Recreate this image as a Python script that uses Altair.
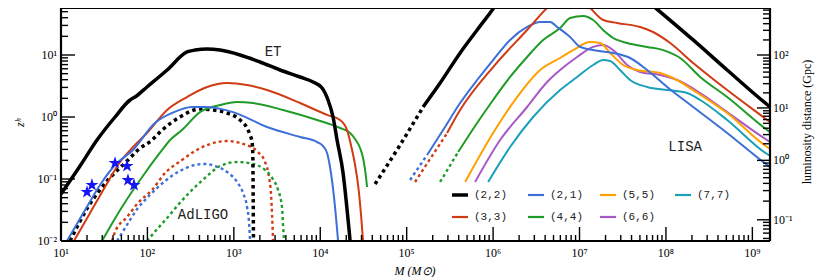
import altair as alt
import pandas as pd

# ---------------- data ----------------
# Einstein Telescope, solid lines
et22_M = [10, 16.6, 26.1, 42.2, 63.0, 71.8, 98.9, 169, 287, 356, 490, 692, 1180, 2010, 3425, 5840, 8260, 10500, 12300, 14060, 15640, 18360, 20990, 22130, 22400]
et22_z = [0.0573, 0.162, 0.425, 1.0, 1.88, 2.10, 3.05, 5.73, 11.2, 12.0, 12.5, 12.0, 10.0, 7.71, 5.73, 4.42, 3.67, 2.94, 1.88, 1.0, 0.425, 0.125, 0.0218, 0.01, 0.008]
et33_M = [14.1, 21.7, 32.3, 48.2, 66.4, 98.9, 169, 287, 490, 834, 1422, 2423, 5840, 11990, 16950, 20420, 23340, 25290, 27410, 29660, 31270]
et33_z = [0.01, 0.0283, 0.0743, 0.188, 0.316, 0.552, 1.30, 2.10, 3.05, 3.53, 3.28, 2.72, 1.68, 1.08, 0.896, 0.616, 0.294, 0.168, 0.080, 0.0262, 0.01]
et21_M = [11.7, 19.0, 28.3, 42.2, 68.1, 122, 193, 328, 464, 979, 2423, 5840, 9190, 10770, 11990, 12970, 14830, 16070]
et21_z = [0.01, 0.0316, 0.080, 0.168, 0.294, 0.80, 1.16, 1.45, 1.45, 1.20, 0.69, 0.476, 0.395, 0.340, 0.262, 0.156, 0.0353, 0.01]
et44_M = [29.8, 50.8, 93.8, 148, 183, 251, 406, 692, 1089, 1668, 3710, 9190, 16950, 22130, 25290, 28880, 31290, 33010, 34810]
et44_z = [0.01, 0.0353, 0.125, 0.294, 0.425, 0.616, 1.20, 1.56, 1.75, 1.68, 1.30, 0.896, 0.665, 0.552, 0.442, 0.316, 0.218, 0.140, 0.0743]

# Advanced LIGO, dotted lines
ligo22_M = [12.7, 20.5, 35.0, 59.6, 77.8, 113, 148, 238, 406, 574, 834, 1180, 1422, 1540, 1625, 1660, 1675, 1688]
ligo22_z = [0.01, 0.0353, 0.0964, 0.202, 0.294, 0.425, 0.616, 1.0, 1.35, 1.30, 1.16, 0.896, 0.665, 0.513, 0.395, 0.226, 0.046, 0.009]
ligo33_M = [38.9, 42.2, 58.1, 77.8, 113, 160, 251, 356, 531, 834, 1278, 1905, 2297, 2553, 2697, 2770, 2844]
ligo33_z = [0.01, 0.0140, 0.0244, 0.0410, 0.0665, 0.125, 0.202, 0.283, 0.367, 0.410, 0.367, 0.272, 0.188, 0.108, 0.0552, 0.0262, 0.01]
ligo21_M = [44.5, 55.1, 77.8, 107, 160, 238, 356, 464, 606, 834, 1089, 1278, 1422, 1500, 1540]
ligo21_z = [0.01, 0.0162, 0.0341, 0.0552, 0.0929, 0.135, 0.168, 0.175, 0.162, 0.130, 0.0895, 0.0595, 0.0353, 0.0195, 0.01]
ligo44_M = [98.9, 133, 173, 226, 295, 464, 692, 1089, 1668, 2297, 2770, 3250, 3610, 3710, 3810]
ligo44_z = [0.01, 0.0162, 0.0244, 0.0381, 0.0573, 0.104, 0.162, 0.188, 0.175, 0.140, 0.104, 0.0665, 0.0353, 0.0181, 0.01]

# LISA: dotted low-mass part, then solid
lisa22d_M = [43060, 83900, 154800]
lisa22d_z = [0.0830, 0.354, 1.45]
lisa22_M = [154800, 243600, 415300, 653200, 1.112e6, 1.377e6, 3e6, 3e7, 5.03e7, 6.92e7, 2.065e8, 5.11e8, 1.607e9, 1.84e9]
lisa22_z = [1.45, 3.53, 10.8, 25.3, 69, 112, 200, 200, 93, 64, 17.5, 5.73, 1.45, 1.25]
lisa33d_M = [125000, 293500]
lisa33d_z = [0.0895, 0.552]
lisa33_M = [293500, 415300, 1.0e6, 2.475e6, 4.57e6, 7.38e6, 1.225e7, 1.875e7, 2.72e7, 5.03e7, 7.11e7, 1.119e8, 2.065e8, 5.11e8, 1.483e9, 1.84e9]
lisa33_z = [0.552, 1.30, 6.40, 25.3, 64, 104, 64, 36.7, 32.8, 28.3, 23.5, 15.6, 7.43, 2.72, 0.896, 0.716]
lisa21d_M = [109400, 172200]
lisa21d_z = [0.0964, 0.244]
lisa21_M = [172200, 263800, 415300, 653200, 1.0e6, 1.573e6, 2.475e6, 3.50e6, 4.57e6, 5.51e6, 7.78e6, 1.016e7, 1.437e7, 2.45e7, 3.85e7, 6.06e7, 1.033e8, 2.065e8, 5.11e8, 1.334e9, 1.84e9]
lisa21_z = [0.244, 0.616, 1.68, 3.95, 8.30, 17.5, 28.3, 34.1, 34.1, 28.3, 19.5, 13.5, 12.0, 10.8, 8.95, 5.73, 3.05, 1.45, 0.552, 0.188, 0.135]
lisa44d_M = [243600, 393700]
lisa44d_z = [0.0895, 0.272]
lisa44_M = [393700, 653200, 1.0e6, 1.573e6, 2.475e6, 3.79e6, 5.96e6, 7.78e6, 1.10e7, 1.437e7, 1.875e7, 2.45e7, 3.56e7, 6.06e7, 9.29e7, 1.460e8, 2.49e8, 5.11e8, 1.483e9, 1.84e9]
lisa44_z = [0.272, 0.80, 1.88, 4.42, 9.29, 17.5, 27.2, 39.5, 42.6, 36.7, 25.3, 18.8, 15.6, 13.5, 12.0, 8.95, 4.42, 2.10, 0.616, 0.494]
lisa55_M = [474500, 1.0e6, 1.897e6, 3.50e6, 5.96e6, 8.43e6, 1.327e7, 1.73e7, 2.26e7, 3.20e7, 4.64e7, 8.57e7, 1.212e8, 2.065e8, 5.11e8, 1.483e9, 1.84e9]
lisa55_z = [0.0895, 0.552, 2.10, 5.73, 8.95, 12.0, 16.2, 15.6, 10.8, 6.90, 5.73, 5.13, 4.26, 2.72, 1.16, 0.328, 0.272]
lisa66_M = [619300, 1.205e6, 2.475e6, 4.22e6, 5.96e6, 9.38e6, 1.437e7, 1.875e7, 2.45e7, 3.56e7, 5.03e7, 8.57e7, 1.349e8, 2.49e8, 5.11e8, 1.483e9, 1.84e9]
lisa66_z = [0.0895, 0.425, 1.45, 3.67, 5.73, 9.29, 13.5, 14.5, 12.0, 6.90, 5.32, 4.75, 3.95, 2.44, 1.20, 0.425, 0.354]
lisa77_M = [875300, 1.573e6, 2.905e6, 5.96e6, 9.38e6, 1.437e7, 1.875e7, 2.26e7, 2.95e7, 3.85e7, 6.06e7, 1.033e8, 1.759e8, 2.49e8, 5.11e8, 1.483e9, 1.84e9]
lisa77_z = [0.0895, 0.328, 1.0, 2.72, 4.42, 6.90, 8.30, 8.0, 5.73, 3.95, 3.05, 2.72, 2.44, 1.88, 0.896, 0.253, 0.215]

# detected events (stars)
star_M = [20.0, 22.8, 42.2, 58.1, 59.6, 70.0]
star_z = [0.0616, 0.080, 0.181, 0.162, 0.096, 0.080]

# axis ticks / labels
x_major = [1e1, 1e2, 1e3, 1e4, 1e5, 1e6, 1e7, 1e8, 1e9]
x_major_lab = ["10¹", "10²", "10³", "10⁴", "10⁵", "10⁶", "10⁷", "10⁸", "10⁹"]
y_major = [1e-2, 1e-1, 1e0, 1e1]
y_major_lab = ["10⁻²", "10⁻¹", "10⁰", "10¹"]
dl_major_z = [0.022, 0.20, 1.4, 10.0]
dl_major_lab = ["10⁻¹", "10⁰", "10¹", "10²"]
dl_minor_z = [0.011, 0.0134, 0.0156, 0.0178, 0.0200, 0.044, 0.065, 0.085, 0.105, 0.124, 0.143,
              0.162, 0.181, 0.37, 0.52, 0.66, 0.79, 0.91, 1.03, 1.15, 1.26, 2.45, 3.45, 4.4,
              5.3, 6.2, 7.1, 8.0, 8.9, 17.5, 25, 32, 39, 46, 53]

legend_labels = ["(2,2)", "(2,1)", "(5,5)", "(7,7)", "(3,3)", "(4,4)", "(6,6)"]

# ---------------- style ----------------
W, H = 709, 233
XMIN, XMAX = 10, 1.6e9
YMIN, YMAX = 0.01, 57.3
BLACK = "#000000"
RED = "#d03b14"
BLUE = "#3c6fd8"
GREEN = "#1f9c28"
ORANGE = "#ffa000"
PURPLE = "#a958c8"
CYAN = "#1aa0b8"
SERIF = "Liberation Serif"
MONO = "Liberation Mono"

xs = alt.Scale(type="log", domain=[XMIN, XMAX], nice=False)
ys = alt.Scale(type="log", domain=[YMIN, YMAX], nice=False)


def line(M, z, color, width, dash=None):
    df = pd.DataFrame({"M": M, "z": z, "i": list(range(len(M)))})
    kw = dict(color=color, strokeWidth=width, clip=True, interpolate="monotone")
    if dash:
        kw["strokeDash"] = dash
        kw["strokeCap"] = "butt"
    return alt.Chart(df).mark_line(**kw).encode(
        x=alt.X("M:Q", scale=xs, axis=None),
        y=alt.Y("z:Q", scale=ys, axis=None),
        order="i:Q",
    )


layers = []
# AdLIGO dotted
layers += [
    line(ligo33_M, ligo33_z, RED, 2.4, [3, 3]),
    line(ligo21_M, ligo21_z, BLUE, 2.4, [3, 3]),
    line(ligo44_M, ligo44_z, GREEN, 2.4, [3, 3]),
    line(ligo22_M, ligo22_z, BLACK, 3.5, [3.5, 3.5]),
]
# ET solid
layers += [
    line(et44_M, et44_z, GREEN, 2),
    line(et33_M, et33_z, RED, 2),
    line(et21_M, et21_z, BLUE, 2),
    line(et22_M, et22_z, BLACK, 3.5),
]
# LISA
layers += [
    line(lisa22d_M, lisa22d_z, BLACK, 3.5, [3.5, 3.5]),
    line(lisa33d_M, lisa33d_z, RED, 2.4, [3, 3]),
    line(lisa21d_M, lisa21d_z, BLUE, 2.4, [3, 3]),
    line(lisa44d_M, lisa44d_z, GREEN, 2.4, [3, 3]),
    line(lisa77_M, lisa77_z, CYAN, 2),
    line(lisa66_M, lisa66_z, PURPLE, 2),
    line(lisa55_M, lisa55_z, ORANGE, 2),
    line(lisa44_M, lisa44_z, GREEN, 2),
    line(lisa21_M, lisa21_z, BLUE, 2),
    line(lisa33_M, lisa33_z, RED, 2),
    line(lisa22_M, lisa22_z, BLACK, 3.5),
]

STAR = "M0,-1L0.2245,-0.309L0.951,-0.309L0.363,0.118L0.588,0.809L0,0.382L-0.588,0.809L-0.363,0.118L-0.951,-0.309L-0.2245,-0.309Z"
layers.append(
    alt.Chart(pd.DataFrame({"M": star_M, "z": star_z})).mark_point(
        shape=STAR, filled=True, size=190, color="#1515f5", opacity=1
    ).encode(x=alt.X("M:Q", scale=xs, axis=None), y=alt.Y("z:Q", scale=ys, axis=None))
)

# ---- ticks (inward) ----
x_minor = [k * 10 ** e for e in range(1, 10) for k in range(2, 10) if k * 10 ** e <= XMAX]
y_minor = [k * 10.0 ** e for e in range(-2, 2) for k in range(2, 10) if k * 10.0 ** e <= YMAX]


def xtick(vals, length):
    return alt.Chart(pd.DataFrame({"M": vals})).mark_rule(color=BLACK, strokeWidth=1.4).encode(
        x=alt.X("M:Q", scale=xs, axis=None), y=alt.value(H), y2=alt.value(H - length))


def ytick(vals, x0, x1):
    return alt.Chart(pd.DataFrame({"z": vals})).mark_rule(color=BLACK, strokeWidth=1.4).encode(
        y=alt.Y("z:Q", scale=ys, axis=None), x=alt.value(x0), x2=alt.value(x1))


layers += [
    xtick(x_minor, 6), xtick(x_major, 14),
    ytick(y_minor, 0, 7), ytick(y_major, 0, 14),
    ytick(dl_minor_z, W, W - 7), ytick(dl_major_z, W, W - 13),
]

# ---- frame ----
frame = pd.DataFrame({"t": ["frame"]})
layers += [
    alt.Chart(frame).mark_rule(color=BLACK, strokeWidth=2.2).encode(x=alt.value(0), x2=alt.value(W), y=alt.value(0)),
    alt.Chart(frame).mark_rule(color=BLACK, strokeWidth=2.2).encode(x=alt.value(0), x2=alt.value(W), y=alt.value(H)),
    alt.Chart(frame).mark_rule(color=BLACK, strokeWidth=2.2).encode(x=alt.value(0), y=alt.value(0), y2=alt.value(H)),
    alt.Chart(frame).mark_rule(color=BLACK, strokeWidth=2.2).encode(x=alt.value(W), y=alt.value(0), y2=alt.value(H)),
]

# ---- tick labels ----
layers.append(
    alt.Chart(pd.DataFrame({"M": x_major, "t": x_major_lab})).mark_text(
        font=SERIF, fontSize=12, baseline="middle", align="center", color=BLACK
    ).encode(x=alt.X("M:Q", scale=xs, axis=None), y=alt.value(H + 12), text="t:N")
)
layers.append(
    alt.Chart(pd.DataFrame({"z": y_major, "t": y_major_lab})).mark_text(
        font=SERIF, fontSize=12, baseline="middle", align="right", color=BLACK
    ).encode(y=alt.Y("z:Q", scale=ys, axis=None), x=alt.value(-4), text="t:N")
)
layers.append(
    alt.Chart(pd.DataFrame({"z": dl_major_z, "t": dl_major_lab})).mark_text(
        font=SERIF, fontSize=12, baseline="middle", align="left", color=BLACK
    ).encode(y=alt.Y("z:Q", scale=ys, axis=None), x=alt.value(W + 3), text="t:N")
)

# ---- annotations ----
ann = pd.DataFrame({"M": [2844, 440, 1.667e8], "z": [11.2, 0.0262, 0.328], "t": ["ET", "AdLIGO", "LISA"]})
layers.append(
    alt.Chart(ann).mark_text(font=MONO, fontSize=14, baseline="middle", align="center", color="#222222").encode(
        x=alt.X("M:Q", scale=xs, axis=None), y=alt.Y("z:Q", scale=ys, axis=None), text="t:N")
)

# ---- axis titles ----
def label(text, x, y, angle=0, **kw):
    return alt.Chart(pd.DataFrame({"t": [text]})).mark_text(
        angle=angle, baseline="middle", align="center", color=BLACK, **kw
    ).encode(x=alt.value(x), y=alt.value(y), text="t:N")


layers += [
    label("M (M⊙)", 354, H + 30, font=SERIF, fontSize=12, fontStyle="italic"),
    label("zʰ", -41, 115, angle=270, font=SERIF, fontSize=12, fontStyle="italic"),
    label("luminosity distance (Gpc)", 746, 114, angle=270, font=SERIF, fontSize=12),
]

# ---- legend ----
leg_colors = [BLACK, BLUE, ORANGE, CYAN, RED, GREEN, PURPLE]
leg_widths = [3.5, 2.2, 2.2, 2.2, 2.2, 2.2, 2.2]
col_x = [391, 467, 539, 614]
row_y = [187, 209]
for idx, (lab, col, wd) in enumerate(zip(legend_labels, leg_colors, leg_widths)):
    r, c = divmod(idx, 4)
    x0, y0 = col_x[c], row_y[r]
    layers.append(
        alt.Chart(pd.DataFrame({"t": [lab]})).mark_rule(color=col, strokeWidth=wd).encode(
            x=alt.value(x0), x2=alt.value(x0 + 16), y=alt.value(y0))
    )
    layers.append(
        alt.Chart(pd.DataFrame({"t": [lab]})).mark_text(
            font=MONO, fontSize=11, baseline="middle", align="left", color="#222222"
        ).encode(x=alt.value(x0 + 22), y=alt.value(y0), text="t:N")
    )

chart = alt.layer(*layers).properties(
    width=W, height=H,
    background="white",
    autosize=alt.AutoSizeParams(type="none"),
    padding={"left": 53, "top": 0, "right": 50, "bottom": 36},
).configure_view(stroke=None)

chart.save("out.html", embed_options={"renderer": "svg", "actions": False})
